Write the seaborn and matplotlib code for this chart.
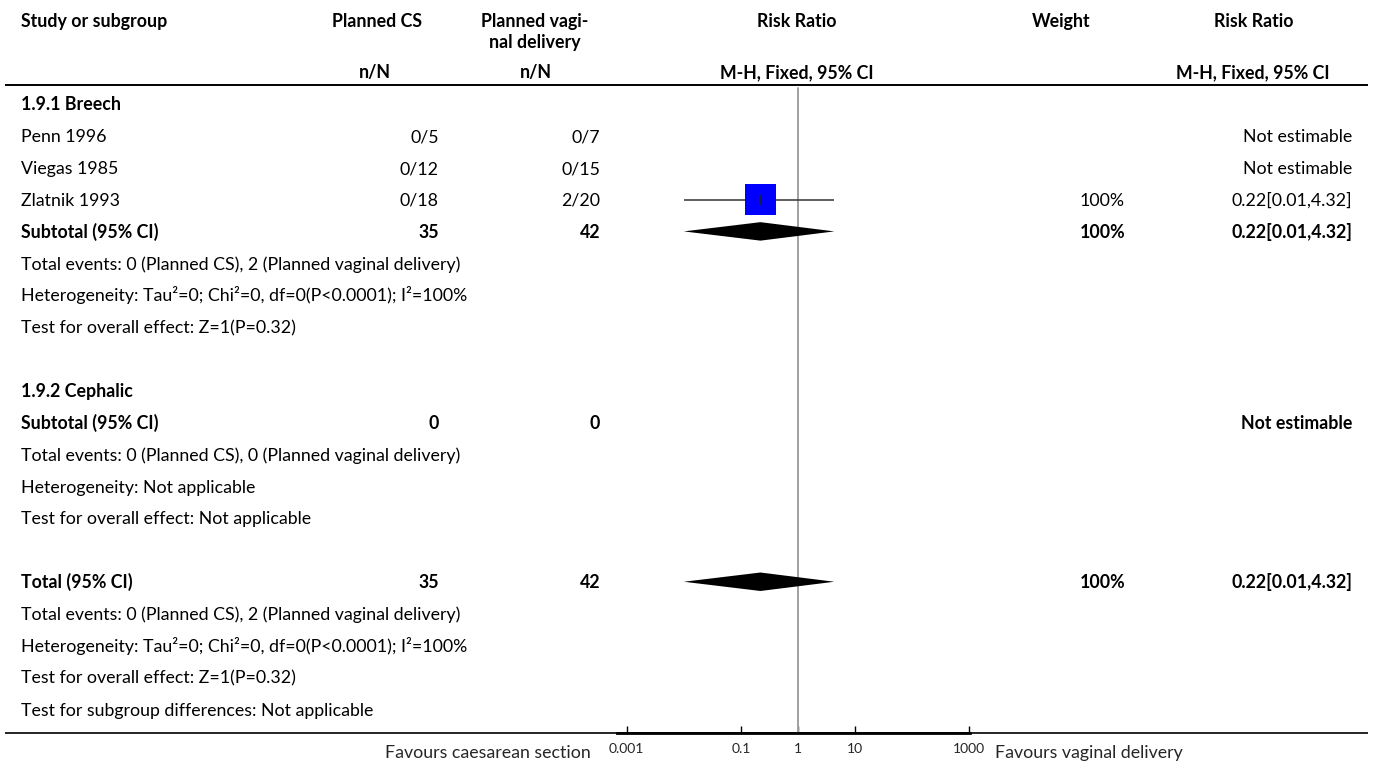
import numpy as np
import matplotlib
matplotlib.use("Agg")
import matplotlib.pyplot as plt
import seaborn as sns

# ---- data -------------------------------------------------------------
study_names = ["Penn 1996", "Viegas 1985", "Zlatnik 1993"]
cs_events = [0, 0, 0]
cs_totals = [5, 12, 18]
vd_events = [0, 0, 2]
vd_totals = [7, 15, 20]
study_rr = [np.nan, np.nan, 0.22]
study_lo = [np.nan, np.nan, 0.01]
study_hi = [np.nan, np.nan, 4.32]
study_weight = [np.nan, np.nan, 100]

breech_n = [35, 42]
breech_rr = [0.22, 0.01, 4.32]
breech_weight = 100
cephalic_n = [0, 0]
total_n = [35, 42]
total_rr = [0.22, 0.01, 4.32]
total_weight = 100

tick_values = [0.001, 0.1, 1, 10, 1000]
tick_labels = ["0.001", "0.1", "1", "10", "1000"]

# ---- style ------------------------------------------------------------
sns.set_theme(style="white")
plt.rcParams["font.family"] = ["Lato", "DejaVu Sans"]
FS = 12.8
W, H = 1373, 762

fig = plt.figure(figsize=(W / 100, H / 100), dpi=100)
tx = fig.add_axes([0, 0, 1, 1])
tx.set_xlim(0, W)
tx.set_ylim(H, 0)
tx.axis("off")

Y0, DY = 104.0, 31.85


def row_y(k):
    return Y0 + DY * k


def put(x, k, s, ha="left", bold=False):
    tx.text(x, row_y(k) + 6.4, s, ha=ha, va="baseline", fontsize=FS,
            fontweight="bold" if bold else "normal", color="black")


X_LABEL, X_CS, X_VD, X_W, X_RR = 21, 439, 600, 1125, 1352

# header
hdr = dict(fontsize=FS, fontweight="bold", va="baseline", color="black")
tx.text(X_LABEL, 27, "Study or subgroup", ha="left", **hdr)
tx.text(377, 27, "Planned CS", ha="center", **hdr)
tx.text(535, 27, "Planned vagi-", ha="center", **hdr)
tx.text(535, 48, "nal delivery", ha="center", **hdr)
tx.text(797, 27, "Risk Ratio", ha="center", **hdr)
tx.text(1061, 27, "Weight", ha="center", **hdr)
tx.text(1254, 27, "Risk Ratio", ha="center", **hdr)
tx.text(375, 78, "n/N", ha="center", **hdr)
tx.text(536, 78, "n/N", ha="center", **hdr)
tx.text(797, 78, "M-H, Fixed, 95% CI", ha="center", **hdr)
tx.text(1253, 78, "M-H, Fixed, 95% CI", ha="center", **hdr)
tx.plot([5, 1368], [85, 85], color="black", lw=1.4, solid_capstyle="butt")
tx.plot([5, 1368], [733, 733], color="black", lw=1.2, solid_capstyle="butt")


def fmt_ci(v):
    return f"{v[0]:.2f}[{v[1]:.2f},{v[2]:.2f}]"


# subgroup 1.9.1
put(X_LABEL, 0, "1.9.1 Breech", bold=True)
for i, name in enumerate(study_names):
    k = 1 + i
    put(X_LABEL, k, name)
    put(X_CS, k, f"{cs_events[i]}/{cs_totals[i]}", ha="right")
    put(X_VD, k, f"{vd_events[i]}/{vd_totals[i]}", ha="right")
    if np.isnan(study_rr[i]):
        put(X_RR, k, "Not estimable", ha="right")
    else:
        put(X_W, k, f"{study_weight[i]:.0f}%", ha="right")
        put(X_RR, k, fmt_ci([study_rr[i], study_lo[i], study_hi[i]]), ha="right")
put(X_LABEL, 4, "Subtotal (95% CI)", bold=True)
put(X_CS, 4, str(breech_n[0]), ha="right", bold=True)
put(X_VD, 4, str(breech_n[1]), ha="right", bold=True)
put(X_W, 4, f"{breech_weight}%", ha="right", bold=True)
put(X_RR, 4, fmt_ci(breech_rr), ha="right", bold=True)
put(X_LABEL, 5, "Total events: 0 (Planned CS), 2 (Planned vaginal delivery)")
put(X_LABEL, 6, "Heterogeneity: Tau²=0; Chi²=0, df=0(P<0.0001); I²=100%")
put(X_LABEL, 7, "Test for overall effect: Z=1(P=0.32)")

# subgroup 1.9.2
put(X_LABEL, 9, "1.9.2 Cephalic", bold=True)
put(X_LABEL, 10, "Subtotal (95% CI)", bold=True)
put(X_CS, 10, str(cephalic_n[0]), ha="right", bold=True)
put(X_VD, 10, str(cephalic_n[1]), ha="right", bold=True)
put(X_RR, 10, "Not estimable", ha="right", bold=True)
put(X_LABEL, 11, "Total events: 0 (Planned CS), 0 (Planned vaginal delivery)")
put(X_LABEL, 12, "Heterogeneity: Not applicable")
put(X_LABEL, 13, "Test for overall effect: Not applicable")

# overall
put(X_LABEL, 15, "Total (95% CI)", bold=True)
put(X_CS, 15, str(total_n[0]), ha="right", bold=True)
put(X_VD, 15, str(total_n[1]), ha="right", bold=True)
put(X_W, 15, f"{total_weight}%", ha="right", bold=True)
put(X_RR, 15, fmt_ci(total_rr), ha="right", bold=True)
put(X_LABEL, 16, "Total events: 0 (Planned CS), 2 (Planned vaginal delivery)")
put(X_LABEL, 17, "Heterogeneity: Tau²=0; Chi²=0, df=0(P<0.0001); I²=100%")
put(X_LABEL, 18, "Test for overall effect: Z=1(P=0.32)")
put(X_LABEL, 19, "Test for subgroup differences: Not applicable")

tx.text(591, 758, "Favours caesarean section", ha="right", va="baseline", fontsize=FS)
tx.text(995, 758, "Favours vaginal delivery", ha="left", va="baseline", fontsize=FS)

# ---- forest panel -----------------------------------------------------
PX_ONE, PX_DEC = 798.0, 57.1
AX_L, AX_R, AX_T, AX_B = 617, 970, 85, 733
ax = fig.add_axes([AX_L / W, 1 - AX_B / H, (AX_R - AX_L) / W, (AX_B - AX_T) / H])
ax.set_xscale("log")
ax.set_xlim(10 ** ((AX_L - PX_ONE) / PX_DEC), 10 ** ((AX_R - PX_ONE) / PX_DEC))
ax.set_ylim((AX_B - Y0) / DY, (AX_T - Y0) / DY)
ax.patch.set_alpha(0)
for side in ["top", "left", "right"]:
    ax.spines[side].set_visible(False)
ax.spines["bottom"].set_linewidth(2.0)
ax.spines["bottom"].set_color("black")
ax.set_yticks([])
ax.set_xticks(tick_values)
ax.set_xticklabels(tick_labels)
ax.minorticks_off()
ax.tick_params(axis="x", direction="in", length=5, width=1, color="black",
               labelsize=10, pad=7, bottom=True)
ax.set_xlabel("")
ax.set_ylabel("")

ax.axvline(1, color="#a0a0a0", lw=1.4, ymin=0, ymax=0.995)

# study estimates
for i in range(len(study_names)):
    if np.isnan(study_rr[i]):
        continue
    k = 1 + i
    ax.hlines(k, study_lo[i], study_hi[i], color="#333333", lw=1.1)
    sns.scatterplot(x=[study_rr[i]], y=[k], marker="s", s=500, color="#0000ff",
                    edgecolor="none", ax=ax, legend=False, zorder=3)
    sns.scatterplot(x=[study_rr[i]], y=[k], marker="|", s=50, color="#222222",
                    linewidth=1.2, ax=ax, legend=False, zorder=4)


def diamond(vals, k, half=0.29):
    est, lo, hi = vals
    ax.fill([lo, est, hi, est], [k, k - half, k, k + half], color="black",
            lw=0, zorder=3)


diamond(breech_rr, 4)
diamond(total_rr, 15)

fig.savefig("out.png", dpi=100)
